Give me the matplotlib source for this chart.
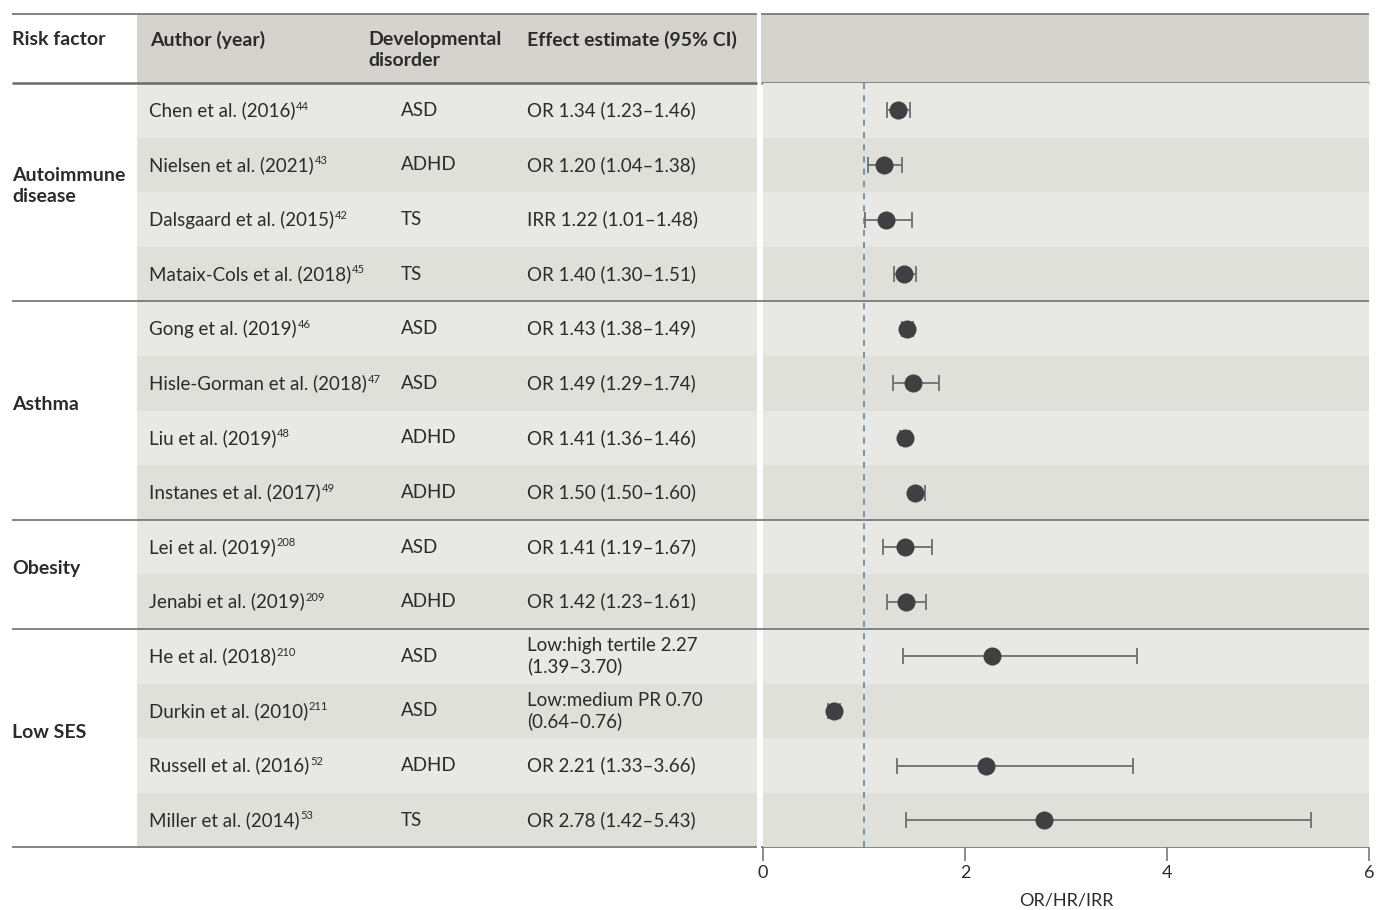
import matplotlib
matplotlib.use("Agg")
import matplotlib.pyplot as plt
from matplotlib.patches import Rectangle

# ---- data -------------------------------------------------------------
groups = ["Autoimmune\ndisease", "Asthma", "Obesity", "Low SES"]
group_sizes = [4, 4, 2, 4]

authors = [
    "Chen et al. (2016)", "Nielsen et al. (2021)", "Dalsgaard et al. (2015)",
    "Mataix-Cols et al. (2018)", "Gong et al. (2019)", "Hisle-Gorman et al. (2018)",
    "Liu et al. (2019)", "Instanes et al. (2017)", "Lei et al. (2019)",
    "Jenabi et al. (2019)", "He et al. (2018)", "Durkin et al. (2010)",
    "Russell et al. (2016)", "Miller et al. (2014)",
]
refs = ["44", "43", "42", "45", "46", "47", "48", "49", "208", "209",
        "210", "211", "52", "53"]
disorders = ["ASD", "ADHD", "TS", "TS", "ASD", "ASD", "ADHD", "ADHD",
             "ASD", "ADHD", "ASD", "ASD", "ADHD", "TS"]
effect_labels = [
    "OR 1.34 (1.23–1.46)", "OR 1.20 (1.04–1.38)", "IRR 1.22 (1.01–1.48)",
    "OR 1.40 (1.30–1.51)", "OR 1.43 (1.38–1.49)", "OR 1.49 (1.29–1.74)",
    "OR 1.41 (1.36–1.46)", "OR 1.50 (1.50–1.60)", "OR 1.41 (1.19–1.67)",
    "OR 1.42 (1.23–1.61)", "Low:high tertile 2.27\n(1.39–3.70)",
    "Low:medium PR 0.70\n(0.64–0.76)", "OR 2.21 (1.33–3.66)",
    "OR 2.78 (1.42–5.43)",
]
estimate = [1.34, 1.20, 1.22, 1.40, 1.43, 1.49, 1.41, 1.50, 1.41, 1.42,
            2.27, 0.70, 2.21, 2.78]
ci_low = [1.23, 1.04, 1.01, 1.30, 1.38, 1.29, 1.36, 1.50, 1.19, 1.23,
          1.39, 0.64, 1.33, 1.42]
ci_high = [1.46, 1.38, 1.48, 1.51, 1.49, 1.74, 1.46, 1.60, 1.67, 1.61,
           3.70, 0.76, 3.66, 5.43]
x_ticks = [0, 2, 4, 6]
x_label = "OR/HR/IRR"
ref_line = 1.0

# ---- style ------------------------------------------------------------
FONT = "Lato"
LIGHT = "#e8e8e4"
DARK = "#e0e0db"
HEAD = "#d4d3cd"
RULE = "#7a7a7a"
TXT = "#2b2b2b"
DOT = "#404043"
BAR = "#6e6e6e"

W, H = 1386, 910
fig = plt.figure(figsize=(W / 100, H / 100), dpi=100)
fig.patch.set_facecolor("white")

# full-figure canvas in pixel units for the table part
tab = fig.add_axes([0, 0, 1, 1])
tab.set_xlim(0, W)
tab.set_ylim(H, 0)
tab.axis("off")

top, head_bot, row_h = 14, 83, 54.6
n = len(authors)
bottom = head_bot + n * row_h
tbl_left, tbl_right = 137, 757
plot_left, plot_right = 763, 1369

# header backgrounds
tab.add_patch(Rectangle((tbl_left, top), tbl_right - tbl_left, head_bot - top,
                        facecolor=HEAD, edgecolor="none"))
tab.add_patch(Rectangle((plot_left - 2, top), plot_right - plot_left + 2, head_bot - top,
                        facecolor=HEAD, edgecolor="none"))
# row backgrounds (table part)
for i in range(n):
    y0 = head_bot + i * row_h
    tab.add_patch(Rectangle((tbl_left, y0), tbl_right - tbl_left, row_h,
                            facecolor=LIGHT if i % 2 == 0 else DARK, edgecolor="none"))

# horizontal rules
for xa, xb in [(12, tbl_right), (plot_left - 2, plot_right)]:
    tab.plot([xa, xb], [top, top], color=RULE, lw=1.3, solid_capstyle="butt")
    tab.plot([xa, xb], [head_bot, head_bot], color="#6a6a6a", lw=1.8, solid_capstyle="butt")
    tab.plot([xa, xb], [bottom, bottom], color=RULE, lw=1.3, solid_capstyle="butt")
edges = []
acc = 0
for s in group_sizes[:-1]:
    acc += s
    edges.append(head_bot + acc * row_h)
for ye in edges:
    tab.plot([12, plot_right], [ye, ye], color=RULE, lw=1.3, solid_capstyle="butt")

# header text
hdr = dict(fontsize=14, fontweight="bold", color=TXT, va="top", family=FONT,
           linespacing=1.3)
tab.text(12, 31, "Risk factor", **hdr)
tab.text(150, 31, "Author (year)", **hdr)
tab.text(368, 31, "Developmental\ndisorder", **hdr)
tab.text(527, 31, "Effect estimate (95% CI)", **hdr)

# risk factor group labels
start = 0
for g, s in zip(groups, group_sizes):
    yc = head_bot + (start + s / 2) * row_h
    tab.text(12, yc - 6, g, fontsize=14, fontweight="bold", color=TXT,
             va="center", family=FONT, linespacing=1.25)
    start += s

# study rows
body = dict(fontsize=13.5, color=TXT, va="center", family=FONT)
for i in range(n):
    yc = head_bot + (i + 0.5) * row_h
    t = tab.text(149, yc, authors[i], **body)
    tab.annotate(refs[i], xy=(1, 1), xycoords=t, xytext=(0.5, 0.5),
                 textcoords="offset points", fontsize=8, color=TXT,
                 va="top", ha="left", family=FONT)
    tab.text(401, yc, disorders[i], **body)
    tab.text(527, yc, effect_labels[i], linespacing=1.2, **body)

# ---- forest plot ------------------------------------------------------
ax = fig.add_axes([plot_left / W, 1 - bottom / H,
                   (plot_right - plot_left) / W, (bottom - head_bot) / H])
ax.set_facecolor("none")
ax.set_xlim(x_ticks[0], x_ticks[-1])
ax.set_ylim(n - 0.5, -0.5)
for i in range(n):
    ax.axhspan(i - 0.5, i + 0.5, color=LIGHT if i % 2 == 0 else DARK, lw=0, zorder=0)
for ye in edges:
    ax.axhline((ye - head_bot) / row_h - 0.5, color=RULE, lw=1.3, zorder=1)
ax.axvline(ref_line, color="#5d7b95", lw=1.1, dashes=(4, 4), zorder=1)

ys = list(range(n))
xerr = [[e - lo for e, lo in zip(estimate, ci_low)],
        [hi - e for e, hi in zip(estimate, ci_high)]]
ax.errorbar(estimate, ys, xerr=xerr, fmt="none", ecolor=BAR, elinewidth=1.3,
            capsize=5.5, capthick=1.3, zorder=2)
ax.plot(estimate, ys, "o", color=DOT, markersize=13, markeredgewidth=0, zorder=3)

for sp in ax.spines.values():
    sp.set_visible(False)
ax.set_yticks([])
ax.set_xticks(x_ticks)
ax.set_xticklabels([str(v) for v in x_ticks], family=FONT, fontsize=13, color=TXT)
ax.tick_params(axis="x", direction="out", length=10, width=1.2, color=RULE, pad=3)
ax.set_xlabel(x_label, family=FONT, fontsize=13, color=TXT, labelpad=8)

fig.savefig("out.png", dpi=100, facecolor="white")
